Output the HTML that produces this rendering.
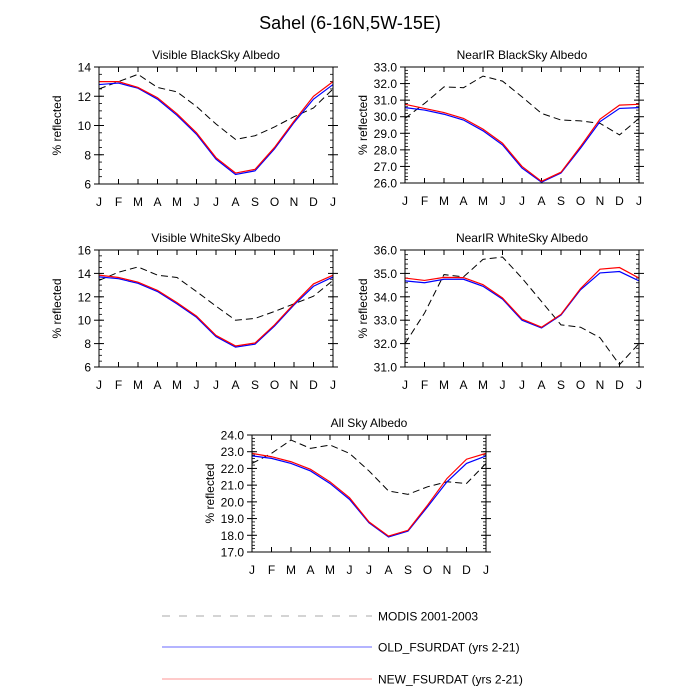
<!DOCTYPE html>
<html><head><meta charset="utf-8">
<style>
html,body{margin:0;padding:0;background:#fff;}
svg{display:block;font-family:"Liberation Sans",sans-serif;}
</style></head>
<body>
<svg id="chart" width="700" height="700" viewBox="0 0 700 700">
<text x="350" y="29" font-size="18" text-anchor="middle">Sahel (6-16N,5W-15E)</text>
</svg>
<script>
const months = ["J","F","M","A","M","J","J","A","S","O","N","D","J"];
const visBlackNew = [13.0,13.0,12.6,11.9,10.8,9.5,7.8,6.75,7.0,8.5,10.3,12.0,13.0];
const visBlackOld = [12.8,12.9,12.55,11.8,10.7,9.4,7.7,6.65,6.9,8.4,10.2,11.8,12.8];
const visBlackModis = [12.5,13.0,13.5,12.6,12.3,11.3,10.1,9.05,9.3,9.9,10.6,11.2,12.5];
const nirBlackNew = [30.75,30.5,30.25,29.9,29.25,28.4,27.0,26.1,26.65,28.2,29.85,30.7,30.75];
const nirBlackOld = [30.55,30.4,30.15,29.8,29.15,28.3,26.9,26.05,26.6,28.1,29.7,30.5,30.55];
const nirBlackModis = [29.9,30.8,31.8,31.75,32.45,32.15,31.2,30.2,29.8,29.75,29.6,28.9,29.9];
const visWhiteNew = [13.85,13.65,13.25,12.55,11.5,10.35,8.7,7.8,8.05,9.6,11.4,13.1,13.85];
const visWhiteOld = [13.7,13.55,13.15,12.45,11.4,10.25,8.6,7.7,7.95,9.5,11.3,12.9,13.7];
const visWhiteModis = [13.4,14.1,14.55,13.85,13.65,12.45,11.2,10.0,10.15,10.75,11.4,12.05,13.4];
const nirWhiteNew = [34.8,34.7,34.83,34.82,34.52,33.95,33.05,32.7,33.25,34.35,35.18,35.25,34.8];
const nirWhiteOld = [34.68,34.6,34.75,34.75,34.45,33.9,33.0,32.67,33.22,34.3,35.02,35.08,34.68];
const nirWhiteModis = [32.0,33.3,34.95,34.85,35.6,35.7,34.8,33.8,32.8,32.7,32.25,31.1,32.0];
const allSkyNew = [22.9,22.7,22.4,21.95,21.2,20.25,18.8,17.95,18.3,19.8,21.4,22.55,22.9];
const allSkyOld = [22.75,22.6,22.3,21.85,21.1,20.15,18.75,17.9,18.25,19.7,21.2,22.3,22.75];
const allSkyModis = [22.3,22.9,23.7,23.2,23.4,22.9,21.85,20.65,20.45,20.9,21.2,21.1,22.3];
const ticksVis1 = [6,8,10,12,14];
const ticksNir1 = [26,27,28,29,30,31,32,33];
const ticksVis2 = [6,8,10,12,14,16];
const ticksNir2 = [31,32,33,34,35,36];
const ticksAll = [17,18,19,20,21,22,23,24];

const NS="http://www.w3.org/2000/svg";
const svg=document.getElementById('chart');
function mk(tag,attrs,parent){const e=document.createElementNS(NS,tag);for(const k in attrs)e.setAttribute(k,attrs[k]);(parent||svg).appendChild(e);return e;}

function panel(key,title,L,T,W,H,ymin,ymax,ticks,dec,minorStep,modis,oldv,newv){
  const g=mk('g',{});
  
  
  const xs=i=>L+i*W/(months.length-1);
  const ys=v=>T+H-(v-ymin)/(ymax-ymin)*H;
  const t=mk('text',{x:L+W/2,y:T-8,'font-size':12,'text-anchor':'middle'},g);t.textContent=title;
  
  
  // minor ticks
  for(let v=ymin;v<=ymax+1e-9;v+=minorStep){
    const y=ys(v);
    mk('line',{x1:L,x2:L+3,y1:y,y2:y,stroke:'#000','stroke-width':0.8},g);
    mk('line',{x1:L+W-3,x2:L+W,y1:y,y2:y,stroke:'#000','stroke-width':0.8},g);
  }
  ticks.forEach(v=>{
    const y=ys(v);
    mk('line',{x1:L-5,x2:L+5,y1:y,y2:y,stroke:'#000','stroke-width':1},g);
    mk('line',{x1:L+W-5,x2:L+W+5,y1:y,y2:y,stroke:'#000','stroke-width':1},g);
    const tx=mk('text',{x:L-8,y:y+4.5,'font-size':12,'text-anchor':'end'},g);
    tx.textContent=v.toFixed(dec);
    
    
  });
  months.forEach((m,i)=>{
    const x=xs(i);
    mk('line',{x1:x,x2:x,y1:T+H,y2:T+H-5,stroke:'#000','stroke-width':1},g);
    mk('line',{x1:x,x2:x,y1:T,y2:T+5,stroke:'#000','stroke-width':1},g);
    const tx=mk('text',{x:x,y:T+H+22,'font-size':12,'text-anchor':'middle'},g);
    tx.textContent=m;
    
    
  });
  const yl=mk('text',{x:0,y:0,'font-size':12,'text-anchor':'middle',transform:`translate(${L-38},${T+H/2}) rotate(-90)`},g);
  yl.textContent='% reflected';
  
  
  const line=(arr,attrs,name)=>{
    const p=mk('polyline',Object.assign({points:arr.map((v,i)=>xs(i)+','+ys(v)).join(' '),fill:'none'},attrs),g);
    
    
  };
  line(modis,{stroke:'#000','stroke-width':1,'stroke-dasharray':'7,4'},key+'-modis-line');
  line(oldv,{stroke:'#0000ff','stroke-width':1.2},key+'-old-line');
  line(newv,{stroke:'#ff0000','stroke-width':1.2},key+'-new-line');
  const r=mk('rect',{x:L,y:T,width:W,height:H,fill:'none',stroke:'#000','stroke-width':1},g);
  
  
}
panel('vis-blacksky','Visible BlackSky Albedo',99,67,234,117,6,14,ticksVis1,0,0.5,visBlackModis,visBlackOld,visBlackNew);
panel('nir-blacksky','NearIR BlackSky Albedo',405,67,234,116,26,33,ticksNir1,1,0.2,nirBlackModis,nirBlackOld,nirBlackNew);
panel('vis-whitesky','Visible WhiteSky Albedo',99,250,234,117,6,16,ticksVis2,0,0.5,visWhiteModis,visWhiteOld,visWhiteNew);
panel('nir-whitesky','NearIR WhiteSky Albedo',405,250,234,117,31,36,ticksNir2,1,0.2,nirWhiteModis,nirWhiteOld,nirWhiteNew);
panel('all-sky','All Sky Albedo',252,435,234,117,17,24,ticksAll,1,0.2,allSkyModis,allSkyOld,allSkyNew);

const legend=[['MODIS 2001-2003','#bbbbbb','8,9',616,'legend-modis'],['OLD_FSURDAT (yrs 2-21)','#8888ff','',647,'legend-old'],['NEW_FSURDAT (yrs 2-21)','#ffaaaa','',679,'legend-new']];
legend.forEach(e=>{
  const g=mk('g',{});
  
  
  const a={x1:162,x2:372,y1:e[3],y2:e[3],stroke:e[1],'stroke-width':1.3};
  if(e[2])a['stroke-dasharray']=e[2];
  mk('line',a,g);
  const t=mk('text',{x:378,y:e[3]+4.5,'font-size':12},g);t.textContent=e[0];
});
</script>
</body></html>
